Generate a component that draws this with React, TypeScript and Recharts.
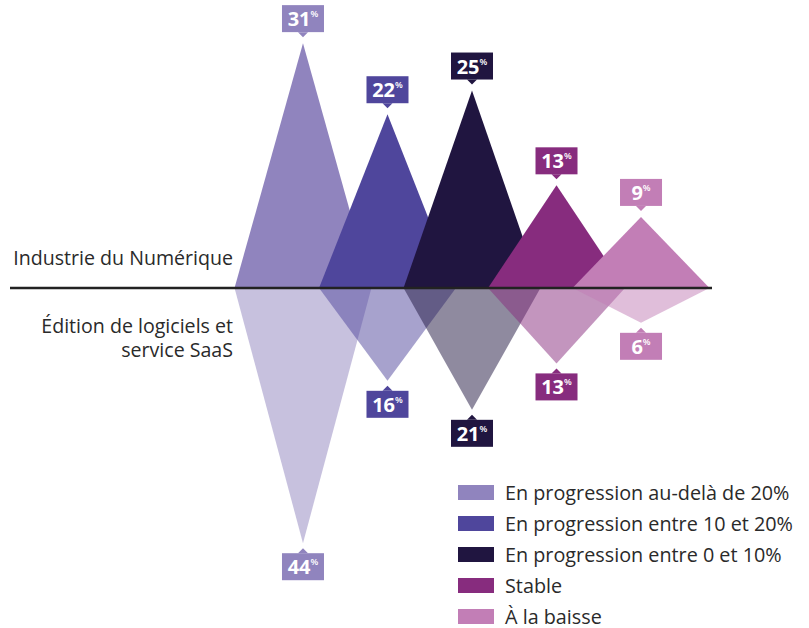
import { ComposedChart, Area, XAxis, YAxis, ReferenceLine, LabelList } from "recharts";

const categories = [
  "En progression au-delà de 20%",
  "En progression entre 10 et 20%",
  "En progression entre 0 et 10%",
  "Stable",
  "À la baisse",
];
const industrieValues = [31, 22, 25, 13, 9];
const editionValues = [44, 16, 21, 13, 6];
const colors = ["#9084BE", "#4F469C", "#201540", "#872C7E", "#C27EB6"];

const HALF = 0.81;
const FONT = "'Open Sans', sans-serif";

const triangle = (i: number, v: number) => [
  { x: i - HALF, y: 0 },
  { x: i, y: v },
  { x: i + HALF, y: 0 },
];

const badge = (color: string, label: number, below: boolean) => (props: any) => {
  if (props.index !== 1) return null;
  const cx = Number(props.x);
  const py = Number(props.y);
  const w = 42;
  const h = 27;
  const tip = below ? py + 5 : py - 6;
  const edge = below ? tip + 5 : tip - 5;
  const top = below ? edge : edge - h;
  return (
    <g>
      <rect x={cx - w / 2} y={top} width={w} height={h} fill={color} />
      <polygon points={`${cx - 5},${edge} ${cx + 5},${edge} ${cx},${tip}`} fill={color} />
      <text x={cx} y={top + 21} textAnchor="middle" fill="#fff" fontFamily={FONT}>
        <tspan fontSize={20} fontWeight={700}>{label}</tspan>
        <tspan fontSize={9} fontWeight={600} dy={-9}>%</tspan>
      </text>
    </g>
  );
};

const sideText: React.CSSProperties = {
  position: "absolute",
  width: 233,
  textAlign: "right",
  fontFamily: FONT,
  fontSize: 19.6,
  color: "#2a2a2a",
  lineHeight: "24px",
  whiteSpace: "nowrap",
};

export default function App() {
  return (
    <div style={{ position: "absolute", left: 0, top: 0, width: 809, height: 628, background: "#fff", overflow: "hidden" }}>
      <ComposedChart width={809} height={628} margin={{ top: 0, right: 97, bottom: 0, left: 10 }}>
        <XAxis type="number" dataKey="x" domain={[-3.467, 4.84]} allowDataOverflow hide />
        <YAxis yAxisId="up" type="number" domain={[-43.04, 36.46]} allowDataOverflow hide />
        <YAxis yAxisId="down" type="number" domain={[-58.62, 49.66]} allowDataOverflow hide />
        {editionValues.map((v, i) => (
          <Area
            key={`e${i}`}
            yAxisId="down"
            data={triangle(i, -v)}
            dataKey="y"
            type="linear"
            stroke="none"
            fill={colors[i]}
            fillOpacity={0.5}
            baseValue={0}
            legendType="none"
            isAnimationActive={false}
          >
            <LabelList dataKey="y" content={badge(colors[i], v, true)} />
          </Area>
        ))}
        {industrieValues.map((v, i) => (
          <Area
            key={`u${i}`}
            yAxisId="up"
            data={triangle(i, v)}
            dataKey="y"
            type="linear"
            stroke="none"
            fill={colors[i]}
            fillOpacity={1}
            baseValue={0}
            name={categories[i]}
            isAnimationActive={false}
          >
            <LabelList dataKey="y" content={badge(colors[i], v, false)} />
          </Area>
        ))}
        <ReferenceLine yAxisId="up" y={0} stroke="#222" strokeWidth={2.5} />
      </ComposedChart>
      <div style={{ position: "absolute", left: 458, top: 477, fontFamily: FONT }}>
        {categories.map((c, i) => (
          <div key={c} style={{ display: "flex", alignItems: "center", height: 31 }}>
            <span style={{ width: 36, height: 15, background: colors[i], marginRight: 11 }} />
            <span style={{ fontSize: 19.8, color: "#2a2a2a", whiteSpace: "nowrap" }}>{c}</span>
          </div>
        ))}
      </div>
      <div style={{ ...sideText, left: 0, top: 246 }}>Industrie du Numérique</div>
      <div style={{ ...sideText, left: 0, top: 314 }}>
        Édition de logiciels et
        <br />
        service SaaS
      </div>
      <div style={{ ...sideText, width: 20, left: -14, top: 484, textAlign: "left" }}>e</div>
    </div>
  );
}
